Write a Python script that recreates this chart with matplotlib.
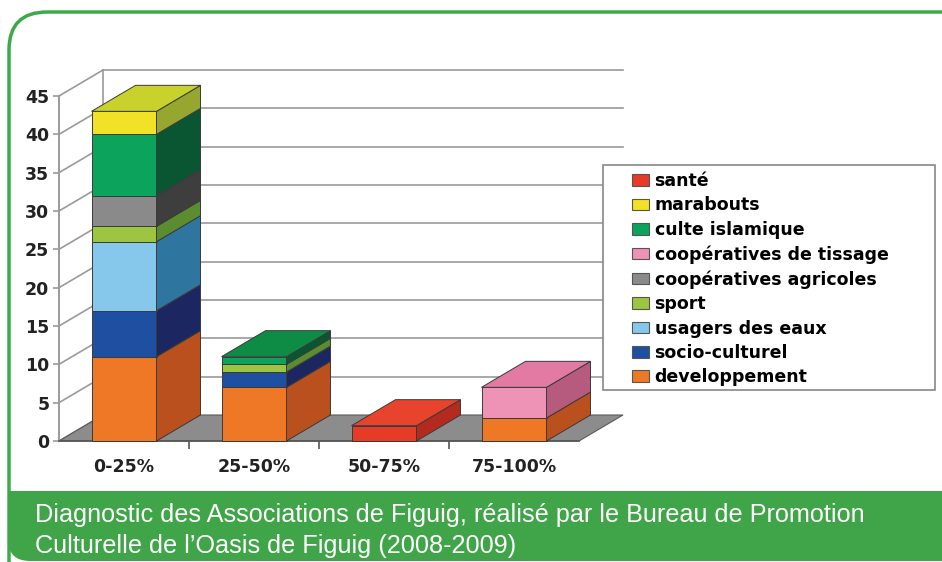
import numpy as np
import matplotlib.pyplot as plt
from matplotlib.patches import Polygon, Patch, FancyBboxPatch, Rectangle

categories = ['0-25%', '25-50%', '50-75%', '75-100%']

# stacking order, bottom to top
developpement = [11, 7, 0, 3]
socio_culturel = [6, 2, 0, 0]
usagers_eaux = [9, 0, 0, 0]
sport = [2, 1, 0, 0]
coop_agricoles = [4, 0, 0, 0]
coop_tissage = [0, 0, 0, 4]
culte_islamique = [8, 1, 0, 0]
marabouts = [3, 0, 0, 0]
sante = [0, 0, 2, 0]

yticks = [0, 5, 10, 15, 20, 25, 30, 35, 40, 45]

# name, values, front colour, side colour, top colour
series = [
    ('developpement', developpement, '#EE7826', '#B9501E', '#F08C3C'),
    ('socio-culturel', socio_culturel, '#1F4FA0', '#1C2762', '#2A5CB0'),
    ('usagers des eaux', usagers_eaux, '#86C8EC', '#2E76A0', '#9AD3F0'),
    ('sport', sport, '#9CC641', '#5B8C30', '#B0D250'),
    ('coopératives agricoles', coop_agricoles, '#8A8A8A', '#3E3E3E', '#9A9A9A'),
    ('coopératives de tissage', coop_tissage, '#EE93B6', '#B65A7E', '#E27AA4'),
    ('culte islamique', culte_islamique, '#0CA35C', '#0B5632', '#0E8C46'),
    ('marabouts', marabouts, '#F1E228', '#97A62E', '#C9D12C'),
    ('santé', sante, '#E63B26', '#B52A1E', '#E8432C'),
]

fig = plt.figure(figsize=(9.42, 5.62), dpi=100)

# background: green frame and caption band (pixel coordinates)
bg = fig.add_axes([0, 0, 1, 1])
bg.set_xlim(0, 942)
bg.set_ylim(562, 0)
bg.axis('off')
frame = FancyBboxPatch((9, 12), 1100, 700, boxstyle='round,pad=0,rounding_size=38',
                       fill=False, ec='#3DAA4A', lw=2.5)
bg.add_patch(frame)
band = FancyBboxPatch((8, 440), 1100, 121, boxstyle='round,pad=0,rounding_size=22',
                      fc='#3FA548', ec='none')
bg.add_patch(band)
band.set_clip_path(Rectangle((0, 491), 942, 80, transform=bg.transData))
cap_font = ['Liberation Sans', 'DejaVu Sans']
bg.text(35, 522, "Diagnostic des Associations de Figuig, réalisé par le Bureau de Promotion",
        color='white', fontsize=18.2, va='baseline', family=cap_font)
bg.text(35, 553, "Culturelle de l\u2019Oasis de Figuig (2008-2009)",
        color='white', fontsize=18.2, va='baseline', family=cap_font)

# chart axes = front plane of the 3D chart
ax = fig.add_axes([59 / 942, 121 / 562, 520 / 942, 345 / 562])
ax.set_xlim(-0.5, 3.5)
ax.set_ylim(0, 45)
ax.patch.set_visible(False)
for s in ['top', 'right']:
    ax.spines[s].set_visible(False)
ax.spines['left'].set_color('#9A9A9A')
ax.spines['left'].set_linewidth(1.4)
ax.spines['bottom'].set_color('#555555')
ax.spines['bottom'].set_linewidth(1.2)

DX = 44 / 130
DY = 26 / (345 / 45)

# back wall and floor
for v in yticks:
    ax.plot([-0.5, -0.5 + DX], [v, v + DY], color='#9A9A9A', lw=1.2, zorder=0.5, clip_on=False)
    if v > 0:
        ax.plot([-0.5 + DX, 3.5 + DX], [v + DY, v + DY], color='#9A9A9A', lw=1.2,
                zorder=0.5, clip_on=False)
ax.plot([-0.5 + DX, -0.5 + DX], [DY, 45 + DY], color='#9A9A9A', lw=1.2, zorder=0.5, clip_on=False)
floor = Polygon([(-0.5, 0), (3.5, 0), (3.5 + DX, DY), (-0.5 + DX, DY)],
                fc='#8C8C8C', ec='#5A5A5A', lw=0.8, zorder=1, clip_on=False)
ax.add_patch(floor)

# stacked 3D bars
w = 0.5
x = np.arange(len(categories))
for i in x:
    bottom = 0
    top_col = None
    for name, vals, fc, sc, tc in series:
        h = vals[i]
        if h <= 0:
            continue
        ax.bar(i, h, w, bottom=bottom, color=fc, ec='#3A3A3A', lw=0.7, zorder=3, clip_on=False)
        side = Polygon([(i + w / 2, bottom), (i + w / 2 + DX, bottom + DY),
                        (i + w / 2 + DX, bottom + h + DY), (i + w / 2, bottom + h)],
                       fc=sc, ec='#3A3A3A', lw=0.7, zorder=3, clip_on=False)
        ax.add_patch(side)
        bottom += h
        top_col = tc
    top = Polygon([(i - w / 2, bottom), (i + w / 2, bottom),
                   (i + w / 2 + DX, bottom + DY), (i - w / 2 + DX, bottom + DY)],
                  fc=top_col, ec='#3A3A3A', lw=0.7, zorder=3, clip_on=False)
    ax.add_patch(top)

# ticks
ax.set_yticks(yticks)
ax.set_yticklabels([str(v) for v in yticks], fontweight='bold', fontsize=12.5, color='#222222')
ax.tick_params(axis='y', length=4, width=1.2, color='#9A9A9A', pad=3)
ax.set_xticks(x)
ax.set_xticklabels(categories, fontweight='bold', fontsize=12.5, color='#222222')
ax.set_xticks([0.5, 1.5, 2.5], minor=True)
ax.tick_params(axis='x', which='major', length=0, pad=12)
ax.tick_params(axis='x', which='minor', length=6, width=1.2, color='#555555')

# legend, with its own white box on top of the grid lines
box = Rectangle((603 / 942, 1 - 390 / 562), 332 / 942, 225 / 562, transform=fig.transFigure,
                fc='white', ec='#888888', lw=1.2, zorder=4)
fig.add_artist(box)
handles = [Patch(fc=fc, ec='#555555', lw=0.8) for name, vals, fc, sc, tc in series[::-1]]
labels = [name for name, vals, fc, sc, tc in series[::-1]]
fig.legend(handles, labels, loc='upper left', bbox_to_anchor=(632 / 942, 1 - 172 / 562),
           frameon=False, prop={'weight': 'bold', 'size': 12.5}, handlelength=1.0,
           handleheight=0.65, handletextpad=0.3, labelspacing=0.37, borderpad=0,
           borderaxespad=0)

fig.savefig('out.png', dpi=100)
